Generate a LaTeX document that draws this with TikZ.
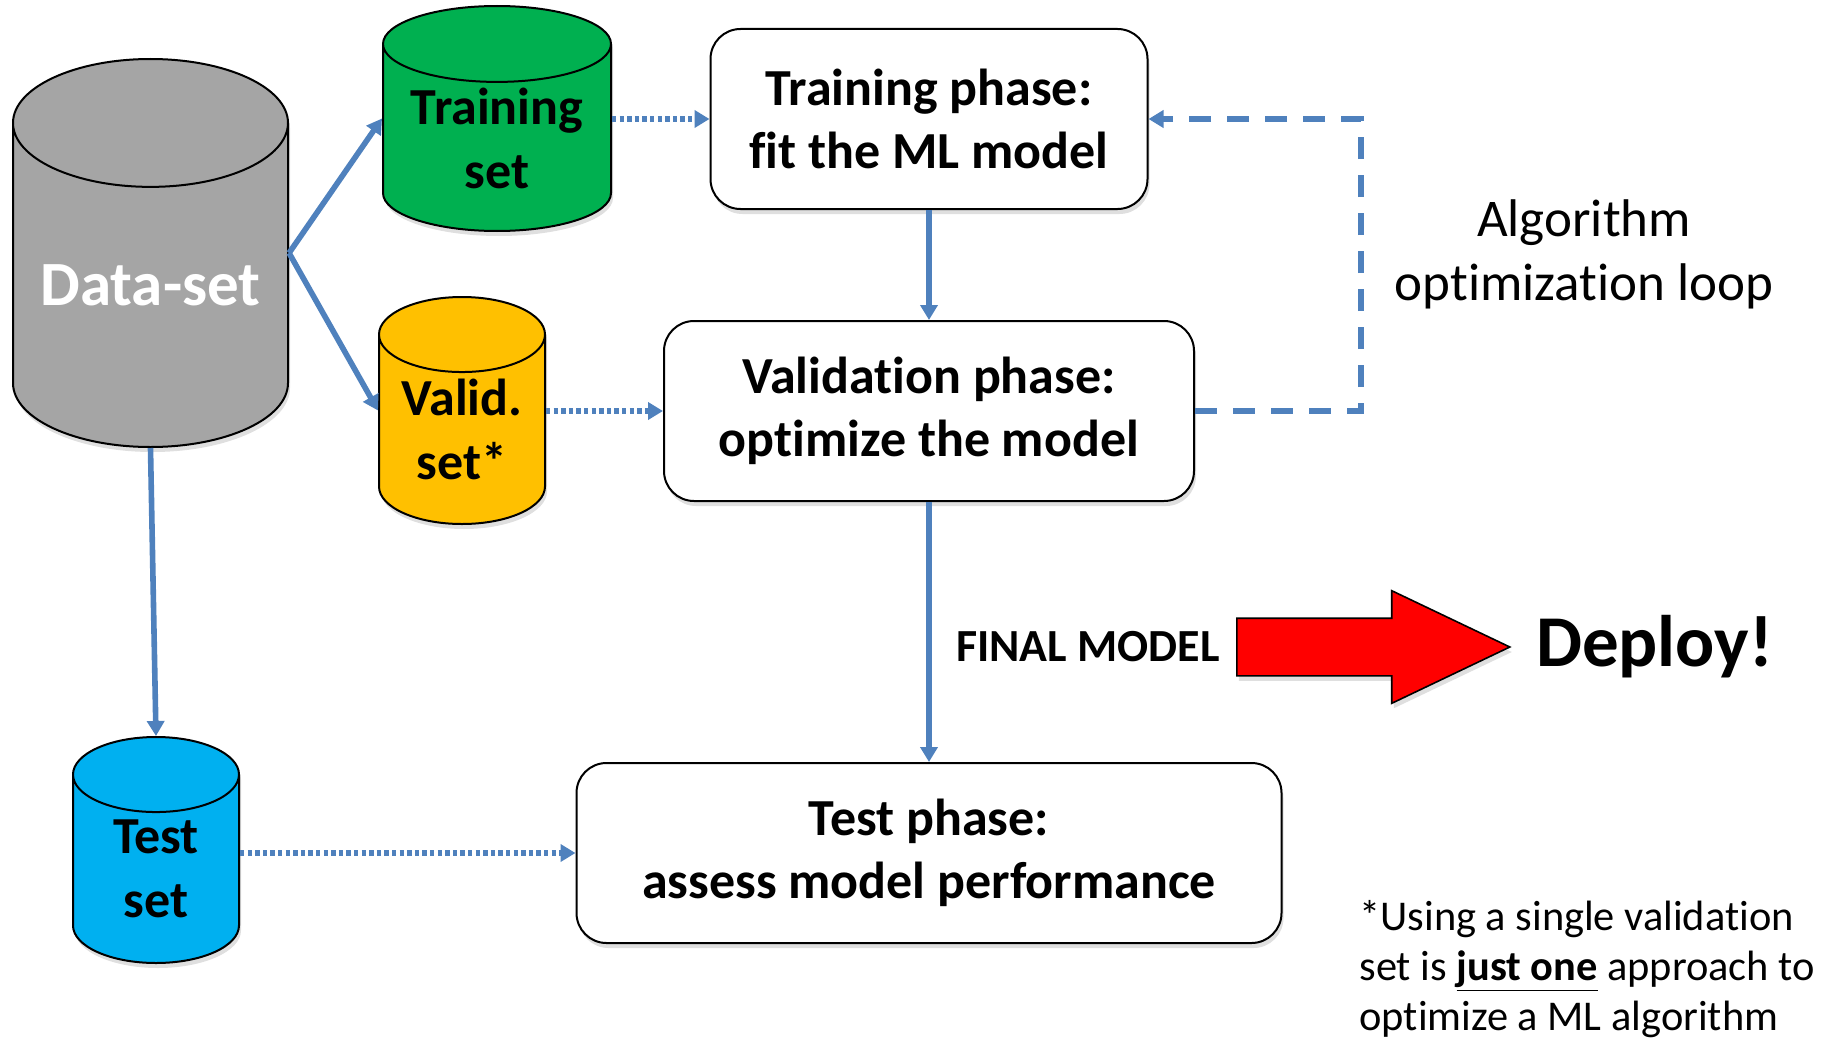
\documentclass[tikz,border=0pt]{standalone}
\usepackage{fontspec}
\setmainfont{Carlito}[Ligatures=NoCommon]
\usetikzlibrary{shapes.geometric, shapes.arrows, positioning, arrows.meta, shadows}

\definecolor{linkblue}{HTML}{4F81BD}
\definecolor{dsgray}{HTML}{A5A5A5}
\definecolor{trgreen}{HTML}{00B050}
\definecolor{valyellow}{HTML}{FFC000}
\definecolor{testblue}{HTML}{00B0F0}

\tikzset{
  softshadow/.style={drop shadow={opacity=0.25, shadow xshift=1pt, shadow yshift=-2.5pt}},
  dbset/.style={cylinder, shape border rotate=90, draw=black, line width=1pt, align=center, inner sep=0pt,
    anchor=shape center, font=\fontsize{26}{32}\selectfont\bfseries, softshadow},
  phase/.style={rectangle, rounded corners=15pt, draw=black, line width=1pt, fill=white, align=center,
    minimum height=90pt, font=\fontsize{26}{31.5}\selectfont\bfseries, softshadow},
  link/.style={draw=linkblue, line width=2.8pt, -{Triangle[length=7.5pt,width=8.5pt]}},
  feed/.style={link, dash pattern=on 2.2pt off 1.6pt},
  loopback/.style={link, dash pattern=on 11pt off 8pt},
  note/.style={inner sep=0pt}
}

\begin{document}
\begin{tikzpicture}
\useasboundingbox (0,0) rectangle (914.5pt,-519pt);
\node[phase, minimum width=218.5pt] (tp) at (464.5pt,-59.5pt) {Training phase:\\fit the ML model};
\node[phase, minimum width=265pt, below=55pt of tp] (vp) {Validation phase:\\optimize the model};
\node[phase, minimum width=352.5pt, below=130pt of vp] (testp) {Test phase:\\assess model performance};

\node[dbset, fill=dsgray, text=white, font=\fontsize{31.5}{38}\selectfont\bfseries, text width=137.5pt,
  minimum width=137.5pt, minimum height=194pt, aspect=0.465] (data) at (75.25pt,-126.5pt) {Data-set};
\node[dbset, fill=trgreen, text width=114pt, minimum width=114pt, minimum height=112.5pt, aspect=0.333] (train) at (248.5pt,-59.25pt) {Training\\set};
\node[dbset, fill=valyellow, text width=83pt, minimum width=83pt, minimum height=113.5pt, aspect=0.452] (valid) at (231pt,-205.25pt) {Valid.\\set*};
\node[dbset, fill=testblue, text width=83pt, minimum width=83pt, minimum height=113pt, aspect=0.452] (test) at (78pt,-425pt) {Test\\set};

\draw (data.east |- data.shape center) edge[link] (train.west |- train.shape center)
      (data.east |- data.shape center) edge[link] (valid.west |- valid.shape center)
      (data.south) edge[link] (test.north)
      (train.east |- tp.west) edge[feed] (tp.west)
      (valid.east |- vp.west) edge[feed] (vp.west)
      (test.east |- testp.west) edge[feed] (testp.west)
      (tp.south) edge[link] (vp.north)
      (vp.south) edge[link] (testp.north);
\draw[loopback] (vp.east) -- ++(83pt,0) |- (tp.east);

\node[single arrow, fill=red, draw=black, line width=0.8pt, minimum height=136.5pt, inner xsep=0pt, inner ysep=14pt,
  single arrow head extend=13.75pt, single arrow tip angle=51, anchor=tail, softshadow] (bigarrow) at (618pt,-323.5pt) {};
\node[note, font=\fontsize{23}{28}\selectfont\bfseries, left=8pt of bigarrow.tail] (final) {FINAL MODEL};
\node[note, font=\fontsize{36.5}{44}\selectfont\bfseries, right=12pt of bigarrow.tip] (deploy) {Deploy!};

\node[note, font=\fontsize{26.5}{32}\selectfont, align=center] (loopnote) at (792pt,-127pt) {Algorithm\\optimization loop};
\node[note, font=\fontsize{21.2}{25}\selectfont, align=left, anchor=base west] (footnote) at (679.5pt,-515pt)
  {*Using a single validation\\set is \underline{\textbf{just one}} approach to\\optimize a ML algorithm};
\end{tikzpicture}
\end{document}
